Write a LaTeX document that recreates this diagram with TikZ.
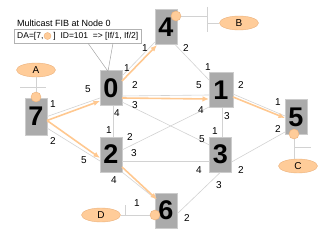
\documentclass[tikz,border=0pt]{standalone}
\usepackage{fontspec}
\setmainfont{Liberation Sans}
\usepackage{xcolor}
\usepackage{tikz}
\usetikzlibrary{shapes.geometric, arrows.meta, positioning, calc}

\definecolor{hostfill}{HTML}{FFCC99}
\definecolor{hostline}{HTML}{EBB07A}
\definecolor{flowline}{HTML}{FFC890}
\definecolor{linkgray}{HTML}{D2D2D2}

\begin{document}
\begin{tikzpicture}[
        x=1pt, y=-1pt,
        router/.style={draw=black!20, fill=black!33, minimum width=22pt, minimum height=35pt, inner sep=0pt, font=\fontsize{27}{27}\selectfont\bfseries},
        host/.style={ellipse, draw=hostline, fill=hostfill, minimum width=39pt, minimum height=14pt, inner sep=0pt, font=\fontsize{10}{10}\selectfont},
        attach/.style={circle, draw=hostline, fill=hostfill, minimum size=10pt, inner sep=0pt},
        port/.style={inner sep=0pt, font=\fontsize{10}{10}\selectfont},
        link/.style={draw=linkgray, line width=0.6pt},
        flow/.style={draw=flowline, line width=1.6pt, -{Latex[length=6.5pt, width=5.5pt]}},
        fibbox/.style={draw=black!30, minimum height=14pt, inner ysep=0pt, inner xsep=3pt, font=\fontsize{8.5}{10}\selectfont}
    ]
    \useasboundingbox (0,0) rectangle (330,248);

    % Router
    \node[router] (n0) at (111,88) {0};
    \node[router, minimum width=24pt] (n1) at (221,90) {1};
    \node[router] (n2) at (111,154.5) {2};
    \node[router] (n3) at (220.5,154.5) {3};
    \node[router] (n4) at (166,27) {4};
    \node[router] (n5) at (296,117) {5};
    \node[router] (n6) at (166,210.5) {6};
    \node[router, minimum height=37pt] (n7) at (36,116.5) {7};

    % Enlaces
    \draw[link] (n7.east) -- ($(n0)+(-11,10)$);
    \draw[link] ($(n7)+(11,11.5)$) -- ($(n2)+(-11,6.5)$);
    \draw[link] ($(n0)+(11,-12)$) -- ($(n4)+(-11,15)$);
    \draw[link] ($(n0)+(11,8)$) -- ($(n1)+(-12,5)$);
    \draw[link] ($(n0)+(11,14)$) -- ($(n3)+(-11,-9.5)$);
    \draw[link] ($(n0.south)+(2,0)$) -- ($(n2.north)+(2,0)$);
    \draw[link] ($(n2)+(11,-4.5)$) -- ($(n1)+(-12,17)$);
    \draw[link] ($(n2)+(11,6.5)$) -- ($(n3)+(-11,6.5)$);
    \draw[link] (n2.south east) -- ($(n6)+(-11,-12)$);
    \draw[link] ($(n4)+(9,17.5)$) -- ($(n1)+(-12,-10)$);
    \draw[link] ($(n1)+(12,4)$) -- ($(n5)+(-11,-1)$);
    \draw[link] ($(n1.south)+(1,0)$) -- ($(n3.north)+(1.5,0)$);
    \draw[link] ($(n3)+(11,7.5)$) -- ($(n5)+(-11,15)$);
    \draw[link] (n3.south) -- ($(n6)+(11,3.5)$);

    % Fluxo multicast
    \draw[flow] ($(n7)+(11,4)$) -- ($(n0)+(-11,13)$);
    \draw[flow] ($(n7)+(11,4)$) -- ($(n2)+(-11,3.5)$);
    \draw[flow] ($(n0)+(11,-7)$) -- ($(n4)+(-9,18)$);
    \draw[flow] ($(n0)+(11,10)$) -- ($(n1)+(-12,9)$);
    \draw[flow] ($(n1)+(12,7)$) -- ($(n5)+(-11,1)$);
    \draw[flow] ($(n2)+(11,12.5)$) -- ($(n6)+(-9,-11)$);

    % Portas
    \foreach \x/\y/\rt/\pn in {127/68/0/1, 135/85/0/2, 135/105/0/3, 117/113/0/4, 88/89/0/5,
            208/67/1/1, 241/85/1/2, 227/116/1/3, 201/110/1/4, 199/85/1/5,
            109/130/2/1, 130/137/2/2, 134/153/2/3, 114/180/2/4, 84/160/2/5,
            215/131/3/1, 241/170/3/2, 219/185/3/3, 199/170/3/4, 202/139/3/5,
            145/48/4/1, 186/48/4/2, 278/102/5/1, 278/129/5/2,
            137/203/6/1, 187/218/6/2, 53/104/7/1, 53/141/7/2}
        \node[port] (n\rt p\pn) at (\x,\y) {\pn};

    % Hosts
    \node[host] (hA) at (36,70) {A};
    \node[host] (hB) at (239,23) {B};
    \node[host] (hC) at (298,166) {C};
    \node[host] (hD) at (101,215) {D};
    \coordinate (cA) at (36,97);
    \coordinate (cB) at (176,16);
    \coordinate (cC) at (294,134);
    \coordinate (cD) at (155,215);
    \draw[link] (hA.south) -- (cA);
    \draw[link] ($(cA)+(-16,-10)$) -- ($(cA)+(10,-10)$);
    \draw[link] (cB) -- ++(31,0);
    \draw[link] ($(cB)+(31,-9)$) -- ++(0,25);
    \draw[link] ($(cB)+(31,7)$) -- (hB.west);
    \draw[link] (cC) -- (cC |- hC.north);
    \draw[link] ($(cC)+(0,13)$) -- ++(17,0);
    \draw[link] (hD.east) -- (cD);
    \draw[link] ($(hD.east)+(5,0)$) -- ++(0,-10);
    \foreach \c in {A,B,C,D}
        \node[attach] (a\c) at (c\c) {};

    % FIB
    \node[fibbox, anchor=west] (fib) at (14,36) {DA=[7,\hspace{10pt}]\ \ ID=101\ \ =>\ [If/1, If/2]};
    \node[circle, draw=hostline, fill=hostfill, minimum size=7pt, inner sep=0pt] (fibdot) at ($(fib.west)+(33.5,0)$) {};
    \node[above right=2pt and 3pt of fib.north west, inner sep=0pt, font=\fontsize{9}{10}\selectfont] (fibtitle) {Multicast FIB at Node 0};
    \coordinate (tip) at ($(n0.north)+(-3,1)$);
    \draw[black!35, line width=0.5pt] ($(fib.south west)+(74,0)$) -- (tip) -- ($(fib.south west)+(99,0)$);
\end{tikzpicture}
\end{document}
